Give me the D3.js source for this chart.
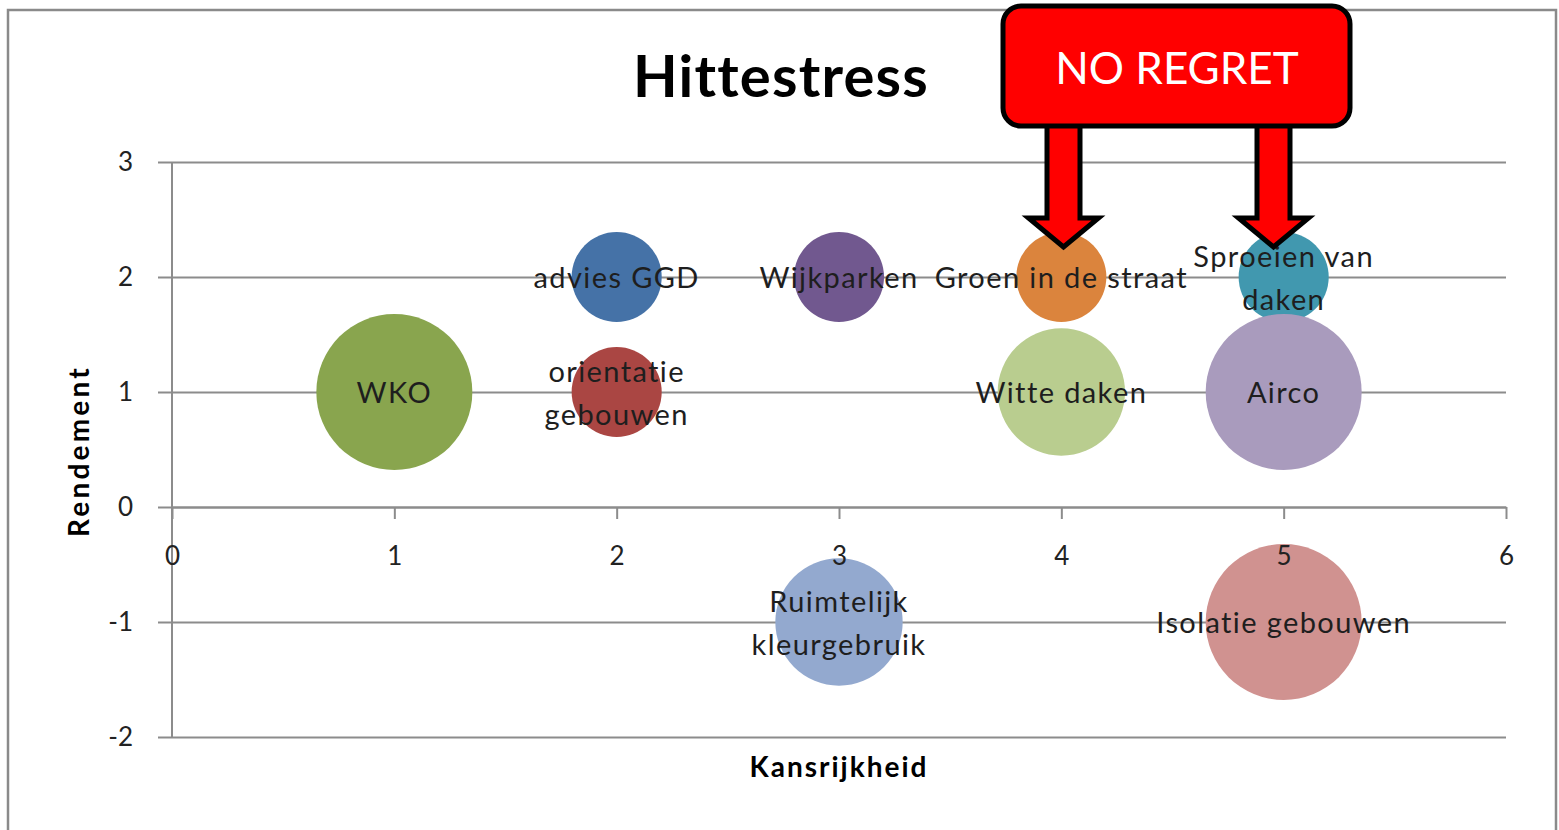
<!DOCTYPE html>
<html lang="nl">
<head>
<meta charset="UTF-8">
<title>Hittestress</title>
<script src="https://cdnjs.cloudflare.com/ajax/libs/d3/7.8.5/d3.min.js"></script>
<style>
  body { margin: 0; background: #fff; }
  svg text { font-family: Lato, "Liberation Sans", sans-serif; }
</style>
</head>
<body>
<div id="chart"></div>
<script>
// measures (label, x = Kansrijkheid, y = Rendement, bubble size)
const labels = ["WKO", "advies GGD", "orientatie\ngebouwen", "Wijkparken",
  "Ruimtelijk\nkleurgebruik", "Groen in de straat", "Witte daken",
  "Sproeien van\ndaken", "Airco", "Isolatie gebouwen"];
const kansrijkheid = [1, 2, 2, 3, 3, 4, 4, 5, 5, 5];
const rendement    = [1, 2, 1, 2, -1, 2, 1, 2, 1, -1];
const sizes        = [3, 1, 1, 1, 2, 1, 2, 1, 3, 3];
const colors = ["#89a54e", "#4572a7", "#aa4643", "#71588f", "#93a9cf",
  "#db843d", "#b9cd8f", "#4198af", "#a99bbd", "#d09290"];

const xTicks = [0, 1, 2, 3, 4, 5, 6];
const yTicks = [-2, -1, 0, 1, 2, 3];

const W = 1559, H = 830;
const svg = d3.select("#chart").append("svg")
  .attr("width", W).attr("height", H);

// chart border
svg.append("rect")
  .attr("x", 8).attr("y", 10).attr("width", 1548).attr("height", 830)
  .attr("fill", "#fff").attr("stroke", "#8a8a8a").attr("stroke-width", 2.5);

const x = d3.scaleLinear().domain([0, 6]).range([172, 1506]);
const y = d3.scaleLinear().domain([-2, 3]).range([737, 162]);
const r = d3.scaleSqrt().domain([0, 3]).range([0, 78]);

// horizontal gridlines + y axis
const yAxis = d3.axisLeft(y).tickValues(yTicks).tickSize(-(1506 - 172))
  .tickPadding(39).tickFormat(d => String(d));
const gy = svg.append("g").attr("transform", "translate(172,0)").call(yAxis);
gy.select(".domain").remove();
gy.selectAll(".tick line").attr("x1", -14).attr("stroke", "#8c8c8c").attr("stroke-width", 2);
gy.selectAll(".tick text").attr("font-size", 26).attr("fill", "#222")
  .style("font-family", "Lato, sans-serif");
svg.append("line").attr("x1", 172).attr("x2", 172).attr("y1", y(3)).attr("y2", y(-2))
  .attr("stroke", "#8c8c8c").attr("stroke-width", 2);

// bubbles
const data = labels.map((l, i) => ({
  label: l, x: kansrijkheid[i], y: rendement[i], s: sizes[i], c: colors[i]
}));

svg.append("g").selectAll("circle").data(data).join("circle")
  .attr("cx", d => x(d.x)).attr("cy", d => y(d.y)).attr("r", d => r(d.s))
  .attr("fill", d => d.c);

// x axis crossing at y = 0 (labels sit on top of bubbles)
const xAxis = d3.axisBottom(x).tickValues(xTicks).tickSize(12).tickSizeOuter(0)
  .tickPadding(28).tickFormat(d => String(d));
const gx = svg.append("g").attr("transform", `translate(0,${y(0)})`).call(xAxis);
gx.select(".domain").attr("stroke", "#8c8c8c").attr("stroke-width", 2);
gx.selectAll(".tick line").attr("stroke", "#8c8c8c").attr("stroke-width", 2);
gx.selectAll(".tick text").attr("font-size", 26).attr("fill", "#222")
  .style("font-family", "Lato, sans-serif");

// data labels
const lab = svg.append("g").selectAll("text").data(data).join("text")
  .attr("text-anchor", "middle").attr("font-size", 29).attr("fill", "#1e1e1e")
  .attr("letter-spacing", 1.4)
  .attr("x", d => x(d.x)).attr("y", d => y(d.y));
lab.each(function(d) {
  const lines = d.label.split("\n");
  const t = d3.select(this);
  lines.forEach((ln, k) => {
    t.append("tspan").attr("x", x(d.x))
      .attr("y", y(d.y) + (k - (lines.length - 1) / 2) * 43 + 11)
      .text(ln);
  });
});

// titles
svg.append("text").attr("x", 781).attr("y", 97).attr("text-anchor", "middle")
  .attr("font-size", 58).attr("font-weight", "bold").attr("fill", "#000")
  .attr("letter-spacing", 1.2)
  .text("Hittestress");
svg.append("text").attr("x", 839).attr("y", 777).attr("text-anchor", "middle")
  .attr("font-size", 28).attr("font-weight", "bold").attr("fill", "#000")
  .attr("letter-spacing", 2)
  .text("Kansrijkheid");
svg.append("text").attr("transform", "translate(89,451) rotate(-90)")
  .attr("text-anchor", "middle")
  .attr("font-size", 28).attr("font-weight", "bold").attr("fill", "#000")
  .attr("letter-spacing", 3.2)
  .text("Rendement");

// NO REGRET call-out with arrows
const ann = svg.append("g");
function arrow(cx) {
  const p = d3.path();
  p.moveTo(cx - 16.5, 120);
  p.lineTo(cx + 16.5, 120);
  p.lineTo(cx + 16.5, 218);
  p.lineTo(cx + 35, 218);
  p.lineTo(cx, 247);
  p.lineTo(cx - 35, 218);
  p.lineTo(cx - 16.5, 218);
  p.closePath();
  ann.append("path").attr("d", p.toString())
    .attr("fill", "#ff0000").attr("stroke", "#000").attr("stroke-width", 5)
    .attr("stroke-linejoin", "miter");
}
arrow(1063.5);
arrow(1273.5);
ann.append("rect").attr("x", 1003).attr("y", 6).attr("width", 347).attr("height", 120)
  .attr("rx", 18).attr("fill", "#ff0000").attr("stroke", "#000").attr("stroke-width", 5);
ann.append("text").attr("x", 1177).attr("y", 84).attr("text-anchor", "middle")
  .attr("font-size", 44).attr("fill", "#fff").text("NO REGRET");
</script>
</body>
</html>
